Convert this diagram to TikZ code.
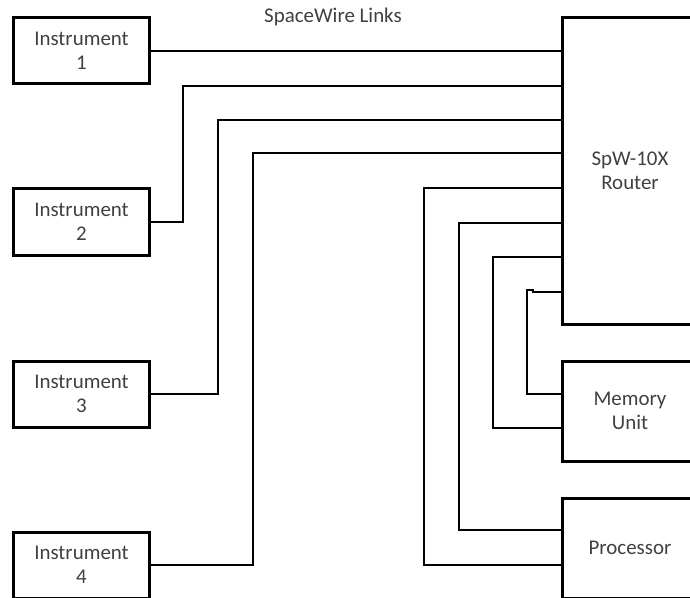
\documentclass[tikz,border=0pt]{standalone}
\usepackage{fontspec}
\setmainfont{Carlito}
\usetikzlibrary{positioning}

\begin{document}
\begin{tikzpicture}[x=1bp, y=-1bp,
  unit/.style={
    draw, line width=3bp, align=center, inner sep=0pt,
    font=\fontsize{21}{24}\selectfont, text=black!75
  },
  link/.style={line width=1.3bp}
]
  \useasboundingbox (0,0) rectangle (690,598);
  \foreach \i/\y in {1/51,2/222,3/394,4/565} {
    \node[unit, minimum width=135bp, minimum height=66bp] (inst\i) at (81.5,\y){Instrument\\\i};
  }
  \node[unit, minimum width=136bp, minimum height=306bp] (router) at (630,171){SpW-10X\\Router};
  \node[unit, minimum width=136bp, minimum height=100bp] (mem) at (630,411){Memory\\Unit};
  \node[unit, minimum width=136bp, minimum height=100bp] (proc) at (630,548){Processor};
  \node[font=\fontsize{21}{24}\selectfont, text=black!75] (title) at (333,17){SpaceWire Links};
  \draw[link] (inst1.east) -- (router.west |- inst1.east);
  \foreach \src/\sy/\vx/\py in {inst2.east/222/183/86, inst3.east/394/218/120,
      inst4.east/565/253/153, proc.west/565/424/188, proc.west/530/459/223,
      mem.west/428/493/257} {
    \draw[link] (\src |- 0,\sy) -| (\vx,\py) -- (router.west |- 0,\py);
  }
  \draw[link] (mem.west |- 0,394) -| (527,290) -- (533,290) |- (router.west |- 0,292);
\end{tikzpicture}
\end{document}
